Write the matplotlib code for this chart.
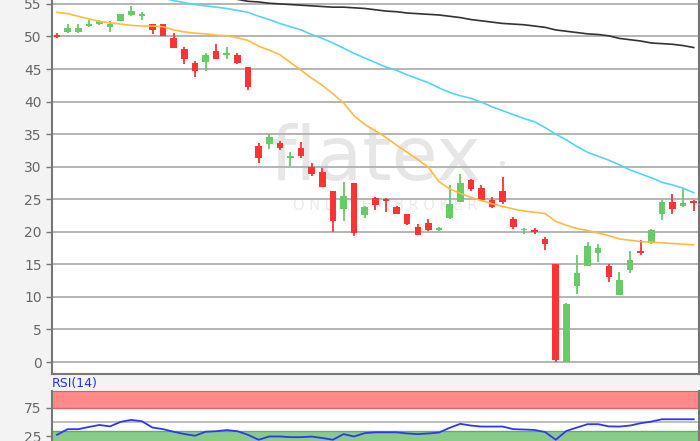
import matplotlib
matplotlib.use("Agg")
import matplotlib.pyplot as plt
import numpy as np

# daily candles (open, high, low, close)
opens = [50.2, 50.7, 50.7, 51.6, 51.9, 51.4, 52.4, 53.3, 53.2, 51.9,
         51.9, 49.7, 48.0, 46.0, 46.1, 47.7, 47.2, 47.1, 45.3, 33.2,
         33.5, 33.6, 31.4, 32.8, 30.0, 29.2, 26.2, 23.5, 27.5, 22.6,
         25.2, 25.0, 23.8, 22.7, 20.8, 21.3, 20.3, 22.1, 24.6, 28.0,
         26.8, 24.9, 26.3, 22.0, 20.2, 20.3, 18.9, 15.0, 0.0, 11.6,
         14.7, 16.7, 14.8, 10.3, 14.1, 16.9, 18.5, 22.7, 24.5, 23.9, 24.6]
highs = [50.6, 51.9, 51.9, 52.5, 52.6, 52.3, 53.5, 54.7, 53.7, 51.9,
         51.9, 50.5, 48.4, 46.2, 47.4, 48.8, 48.4, 47.5, 45.3, 33.6,
         35.0, 33.9, 32.3, 33.8, 30.6, 29.8, 26.2, 27.7, 27.5, 24.0,
         25.3, 25.2, 24.0, 22.7, 21.2, 22.0, 20.8, 27.2, 28.8, 28.1,
         27.2, 25.3, 28.4, 22.3, 20.6, 20.6, 19.2, 15.0, 9.1, 16.4,
         18.5, 18.1, 15.0, 13.9, 17.1, 18.8, 20.5, 24.9, 25.8, 26.7, 24.9]
lows = [49.8, 50.5, 50.5, 51.4, 51.7, 50.7, 52.4, 53.2, 52.5, 50.4,
        50.0, 48.2, 45.8, 43.7, 44.7, 46.5, 46.5, 45.8, 41.8, 30.5,
        32.7, 32.6, 30.1, 31.4, 28.5, 26.9, 20.0, 21.6, 19.4, 22.1,
        23.3, 23.1, 22.8, 21.0, 19.5, 20.1, 20.1, 21.9, 24.6, 26.3,
        24.7, 23.7, 24.3, 20.5, 19.6, 19.7, 17.2, 0.0, 0.0, 10.4,
        14.7, 15.4, 12.3, 10.3, 13.7, 16.5, 18.1, 21.8, 22.7, 23.8, 23.2]
closes = [49.9, 51.3, 51.3, 51.9, 52.4, 51.9, 53.5, 53.9, 53.5, 51.0,
          50.0, 48.2, 46.5, 44.7, 47.2, 46.5, 47.4, 46.0, 42.2, 31.4,
          34.6, 32.8, 31.6, 31.6, 28.9, 26.9, 21.6, 25.5, 19.8, 23.8,
          24.1, 24.7, 22.8, 21.2, 19.5, 20.3, 20.5, 24.3, 27.5, 26.6,
          24.9, 23.8, 24.5, 20.7, 20.3, 20.0, 18.1, 0.3, 8.9, 13.7,
          17.8, 17.5, 13.1, 12.6, 15.6, 16.7, 20.3, 24.5, 23.5, 24.4, 24.4]

# moving averages (nan where the line is not drawn)
ma_short = [53.7, 53.5, 53.1, 52.7, 52.3, 52.1, 51.9, 51.7, 51.6, 51.6,
            51.5, 51.0, 50.7, 50.5, 50.4, 50.2, 50.1, 49.8, 49.4, 48.5,
            47.9, 47.2, 46.0, 44.8, 43.6, 42.5, 41.2, 39.8, 37.8, 36.5,
            35.5, 34.5, 33.3, 32.2, 31.1, 29.9, 27.7, 26.6, 25.9, 25.3,
            24.8, 24.3, 23.9, 23.5, 23.2, 23.0, 22.8, 21.6, 21.0, 20.5,
            20.2, 19.8, 19.4, 18.9, 18.7, 18.5, 18.4, 18.3, 18.2, 18.1, 18.0]
nan = np.nan
ma_mid = [nan] * 10 + [
            55.9, 55.5, 55.2, 54.9, 54.7, 54.5, 54.3, 54.0, 53.7, 53.1,
            52.6, 52.0, 51.5, 51.0, 50.3, 49.7, 49.0, 48.2, 47.4, 46.7,
            46.0, 45.3, 44.8, 44.1, 43.5, 42.9, 42.1, 41.4, 40.9, 40.5,
            39.9, 39.2, 38.6, 38.0, 37.4, 36.9, 36.0, 35.0, 34.1, 33.1,
            32.2, 31.6, 31.0, 30.3, 29.5, 28.9, 28.3, 27.6, 27.2, 26.7, 26.0]
ma_long = [nan] * 17 + [
            55.7, 55.4, 55.3, 55.1, 55.0, 54.9, 54.8, 54.7, 54.6, 54.5,
            54.5, 54.4, 54.3, 54.1, 53.9, 53.8, 53.6, 53.5, 53.4, 53.3,
            53.1, 52.9, 52.6, 52.4, 52.2, 52.0, 51.9, 51.8, 51.6, 51.4,
            51.0, 50.8, 50.6, 50.4, 50.3, 50.1, 49.7, 49.5, 49.3, 49.0,
            48.9, 48.8, 48.6, 48.3]

rsi = [27.6, 37.6, 37.6, 41.5, 45.0, 42.5, 50.5, 54.0, 51.5, 40.5,
       37.6, 33.0, 29.0, 26.0, 33.0, 34.0, 36.0, 34.0, 27.6, 18.9,
       24.7, 24.7, 23.5, 23.5, 24.5, 22.0, 18.9, 28.8, 24.7, 30.6,
       32.0, 32.0, 32.0, 30.0, 28.8, 30.0, 31.7, 40.0, 47.0, 44.0,
       42.2, 42.2, 42.2, 37.6, 37.0, 36.2, 32.5, 18.9, 34.5, 40.5,
       46.4, 46.4, 42.5, 42.2, 44.0, 48.1, 51.0, 55.1, 55.1, 55.1, 55.1]

price_ticks = [0, 5, 10, 15, 20, 25, 30, 35, 40, 45, 50, 55]
rsi_ticks = [25, 75]

o = np.array(opens)
c = np.array(closes)
h = np.array(highs)
l = np.array(lows)
x = np.arange(len(o))
up = c >= o
col = np.where(up, '#66cc66', '#ff3333')

fig = plt.figure(figsize=(7, 4.41), dpi=100)
fig.patch.set_facecolor('#f3f3f3')

ax = fig.add_axes([0.0743, 0.1512, 0.9243, 0.8488])
ax.set_facecolor('white')

# watermark
ax.text(0.50, 0.575, 'flatex', transform=ax.transAxes, fontsize=54,
        color='#e6e6e6', ha='center', va='center', zorder=0,
        family='DejaVu Sans')
ax.text(0.695, 0.56, '\u2022', transform=ax.transAxes, fontsize=13,
        color='#e6e6e6', ha='center', va='center', zorder=0)
ax.text(0.515, 0.452, 'O N L I N E     B R O K E R', transform=ax.transAxes,
        fontsize=10.5, color='#ebebeb', ha='center', va='center', zorder=0)

for v in price_ticks:
    ax.axhline(v, color='#b4b4b4', lw=1.4, zorder=1)

body = np.maximum(np.abs(c - o), 0.3)
ax.vlines(x, l, h, colors=col, lw=1.3, zorder=3)
ax.bar(x, body, bottom=np.minimum(o, c), width=0.62, color=col, zorder=4)

ax.plot(x, ma_long, color='#333333', lw=1.2, zorder=5)
ax.plot(x, ma_mid, color='#55d5f5', lw=1.2, zorder=5)
ax.plot(x, ma_short, color='#ffbb44', lw=1.2, zorder=5)

ax.set_xlim(-0.47, 60.5)
ax.set_ylim(-1.89, 55.6)
ax.set_yticks(price_ticks)
ax.set_xticks([])
ax.tick_params(axis='y', colors='#777777', labelcolor='#666666',
               labelsize=10, length=4, width=1)
for s in ['left', 'bottom', 'right']:
    ax.spines[s].set_color('#777777')
    ax.spines[s].set_linewidth(1.5)
ax.spines['top'].set_visible(False)

# RSI panel
ax2 = fig.add_axes([0.0743, 0.0, 0.9243, (441 - 391.3) / 441])
ax2.set_facecolor('white')
ax2.set_xlim(-0.47, 60.5)
ax2.set_ylim(16.7, 104.5)
ax2.axhspan(75, 104.5, color='#ff8888', zorder=1, lw=0)
ax2.axhline(75, color='#e06666', lw=1, zorder=2)
ax2.axhspan(16.7, 35, color='#88cc88', zorder=1, lw=0)
ax2.axhline(35, color='#66aa66', lw=1, zorder=2)
ax2.axhline(50, color='#b4b4b4', lw=1.2, zorder=2)
ax2.plot(x, rsi, color='#3333ff', lw=1.3, zorder=3)
ax2.set_yticks(rsi_ticks)
ax2.set_xticks([])
ax2.tick_params(axis='y', colors='#777777', labelcolor='#666666',
                labelsize=10, length=4, width=1)
ax2.spines['left'].set_color('#777777')
ax2.spines['left'].set_linewidth(1.5)
ax2.spines['right'].set_color('#777777')
ax2.spines['right'].set_linewidth(1.5)
ax2.spines['top'].set_color('#cc6666')
ax2.spines['bottom'].set_visible(False)
fig.text(52 / 700, 1 - 390 / 441, 'RSI(14)', color='#2233ee', fontsize=9,
         ha='left', va='bottom')

fig.savefig('out.png', dpi=100, facecolor=fig.get_facecolor())
